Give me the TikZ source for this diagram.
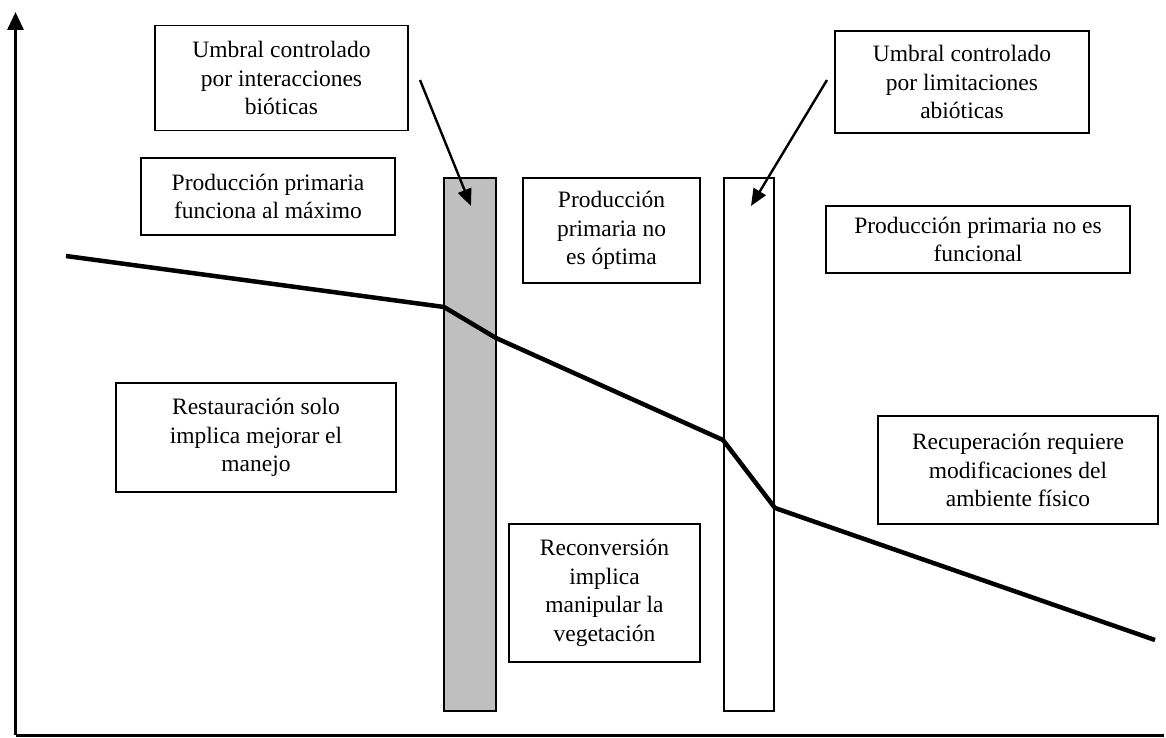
\documentclass[tikz,border=0pt]{standalone}
\usepackage{fontspec}
\setmainfont{Liberation Serif}
\usetikzlibrary{arrows.meta}
\begin{document}
\begin{tikzpicture}[x=1pt,y=-1pt,
  txtbox/.style={draw=black, line width=1.8pt, fill=white, rectangle, inner sep=0pt,
    align=center, font=\fontsize{23.5}{28.5}\selectfont},
  bar/.style={draw=black, line width=1.8pt, rectangle, inner sep=0pt},
  ptr/.style={line width=2.4pt, -{Triangle[length=17pt,width=14pt]}},
  curve/.style={line width=4.5pt, line join=round},
  axis/.style={line width=3pt}]
\useasboundingbox (0,0) rectangle (1166,738);
% axes
\coordinate (o) at (15.5,735);
\coordinate (ytop) at (15.5,12);
\coordinate (xend) at (1164,735);
\draw[axis, -{Triangle[length=18pt,width=16pt]}] (o) -- (ytop);
\draw[axis] (o) -- (xend);
% bars
\node[bar, fill=black!25, minimum width=52pt, minimum height=533pt] (gbar) at (470,444.5) {};
\node[bar, fill=white, minimum width=50pt, minimum height=533pt] (wbar) at (749,444.5) {};
% boxes
\node[txtbox, minimum width=253pt, minimum height=105pt] (b1) at (281.5,78) {Umbral controlado\\por interacciones\\bióticas};
\node[txtbox, minimum width=254pt, minimum height=77pt] (b2) at (268,196.5) {Producción primaria\\funciona al máximo};
\node[txtbox, minimum width=177pt, minimum height=105pt] (b3) at (611.5,230.5) {Producción\\primaria no\\es óptima};
\node[txtbox, minimum width=254pt, minimum height=102pt] (b4) at (962,82) {Umbral controlado\\por limitaciones\\abióticas};
\node[txtbox, minimum width=304pt, minimum height=67pt] (b5) at (978,239.5) {Producción primaria no es\\funcional};
\node[txtbox, minimum width=280pt, minimum height=109pt] (b6) at (256,437.5) {Restauración solo\\implica mejorar el\\manejo};
\node[txtbox, minimum width=191pt, minimum height=138pt] (b7) at (604.5,593) {Reconversión\\implica\\manipular la\\vegetación};
\node[txtbox, minimum width=280pt, minimum height=108pt] (b8) at (1018,470) {Recuperación requiere\\modificaciones del\\ambiente físico};
% pointer arrows
\coordinate (a1s) at (420,80);
\coordinate (a1e) at (471,206);
\coordinate (a2s) at (827,80);
\coordinate (a2e) at (751,206);
\draw[ptr] (a1s) -- (a1e);
\draw[ptr] (a2s) -- (a2e);
% trend line
\coordinate (p0) at (66,256);
\coordinate (p1) at (444,307);
\coordinate (p2) at (496,338);
\coordinate (p3) at (723,440);
\coordinate (p4) at (775,508);
\coordinate (p5) at (1155,640);
\draw[curve] (p0) -- (p1) -- (p2) -- (p3) -- (p4) -- (p5);
\end{tikzpicture}
\end{document}
